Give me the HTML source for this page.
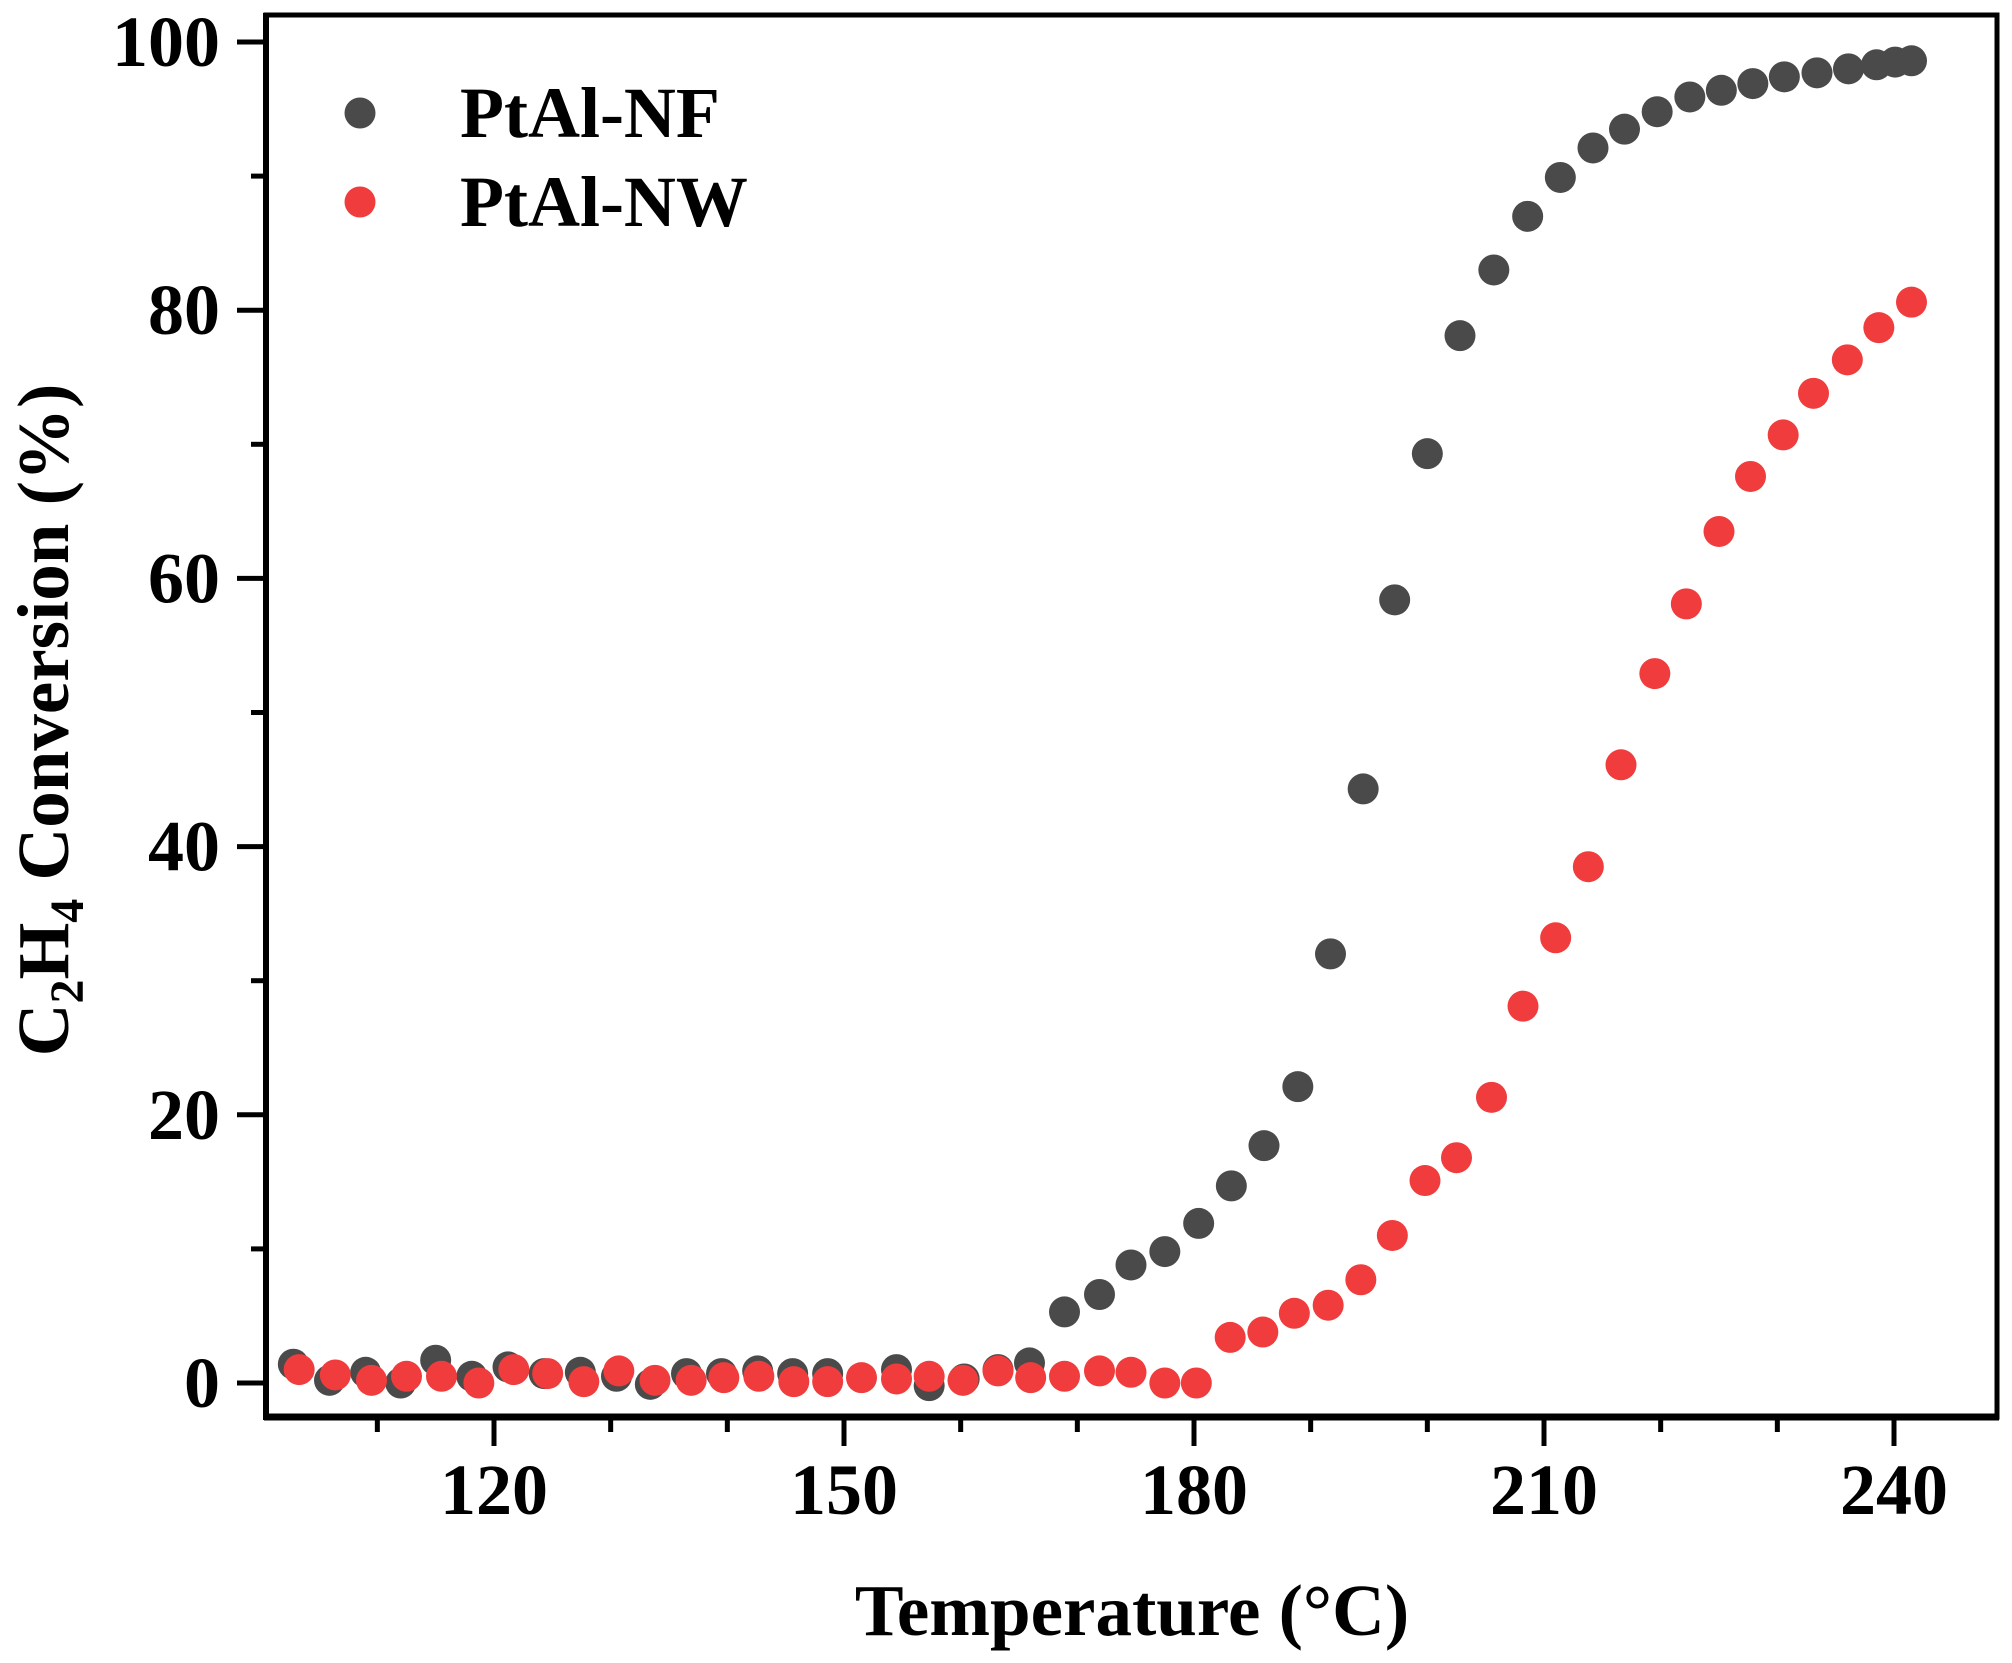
<!DOCTYPE html>
<html><head><meta charset="utf-8"><style>
html,body{margin:0;padding:0;background:#fff}
svg{display:block}
text{font-family:"Liberation Serif",serif;font-weight:bold;fill:#000}
</style></head><body>
<svg id="chart" width="2012" height="1663" viewBox="0 0 2012 1663" xmlns="http://www.w3.org/2000/svg">
<g id="grid"></g>
<g id="marks"></g>
<rect x="266" y="15" width="1731" height="1402" fill="none" stroke="#000" stroke-width="5"/>
<line x1="264" y1="1417" x2="1999" y2="1417" stroke="#000" stroke-width="7"/>
<line x1="266" y1="13" x2="266" y2="1420" stroke="#000" stroke-width="6"/>
<g id="axes"></g>
<g>
<circle cx="360" cy="113" r="15.5" fill="#4a4a4a"/>
<text x="460" y="137" font-size="72">PtAl-NF</text>
<circle cx="360" cy="202" r="15.5" fill="#f03c3c"/>
<text x="460" y="226" font-size="72">PtAl-NW</text>
</g>
<text x="1132" y="1635" font-size="73" text-anchor="middle">Temperature (°C)</text>
<text transform="translate(68,720) rotate(-90)" font-size="73" text-anchor="middle">C<tspan font-size="48" dy="15">2</tspan><tspan dy="-15">H</tspan><tspan font-size="48" dy="15">4</tspan><tspan dy="-15"> Conversion (%)</tspan></text>
</svg>
<script>
const nfTemp=[102.8,105.9,109.0,112.0,115.0,118.1,121.2,124.3,127.4,130.5,133.4,136.5,139.5,142.6,145.6,148.6,154.5,157.3,160.3,163.2,165.9,168.9,171.9,174.6,177.5,180.4,183.2,186.0,188.9,191.7,194.5,197.2,200.0,202.8,205.7,208.6,211.4,214.2,216.9,219.7,222.5,225.2,227.9,230.6,233.4,236.1,238.5,240.1,241.5];
const nfConv=[1.4,0.2,0.8,0,1.7,0.5,1.2,0.7,0.8,0.5,-0.1,0.7,0.7,0.9,0.7,0.7,1.0,-0.2,0.3,1.0,1.5,5.3,6.6,8.8,9.8,11.9,14.7,17.7,22.1,32.0,44.3,58.4,69.3,78.1,83.0,87.0,89.9,92.1,93.5,94.8,95.9,96.4,96.9,97.4,97.7,98.0,98.3,98.5,98.6];
const nwTemp=[103.3,106.4,109.5,112.5,115.5,118.7,121.7,124.6,127.7,130.7,133.8,136.9,139.7,142.7,145.7,148.6,151.5,154.5,157.3,160.2,163.2,166.0,168.9,171.9,174.6,177.5,180.2,183.1,185.9,188.6,191.5,194.3,197.0,199.8,202.5,205.5,208.2,211.0,213.8,216.6,219.5,222.2,225.0,227.7,230.5,233.1,236.0,238.7,241.5];
const nwConv=[1.0,0.6,0.2,0.5,0.5,0,1.0,0.7,0.1,0.9,0.2,0.2,0.4,0.5,0.1,0.1,0.4,0.3,0.5,0.2,0.9,0.4,0.5,0.9,0.8,0,0,3.4,3.8,5.2,5.8,7.7,11.0,15.1,16.8,21.3,28.1,33.2,38.5,46.1,52.9,58.1,63.5,67.6,70.7,73.8,76.3,78.7,80.6];
const xTicks=[120,150,180,210,240];
const xMinor=[100,110,130,140,160,170,190,200,220,230,250];
const yTicks=[0,20,40,60,80,100];
const yMinor=[10,30,50,70,90];

const NS="http://www.w3.org/2000/svg";
function X(t){return 494+(t-120)*(1400/120);}
function Y(v){return 1383-v*13.41;}
function mk(tag,attrs,parent){const e=document.createElementNS(NS,tag);for(const k in attrs)e.setAttribute(k,attrs[k]);parent.appendChild(e);return e;}
const marks=document.getElementById('marks'),axes=document.getElementById('axes');
function series(ts,vs,color,name){
  const g=mk('g',{},marks);
  
  
  for(let i=0;i<ts.length;i++){
    const c=mk('circle',{cx:X(ts[i]),cy:Y(vs[i]),r:15.5,fill:color},g);
    
    
  }
}
series(nfTemp,nfConv,'#4a4a4a','ptal-nf');
series(nwTemp,nwConv,'#f03c3c','ptal-nw');
xTicks.forEach(t=>{
  const l=mk('line',{x1:X(t),x2:X(t),y1:1417,y2:1446,stroke:'#000','stroke-width':5},axes);
  
  
  const tx=mk('text',{x:X(t),y:1514,'font-size':72,'text-anchor':'middle'},axes);
  tx.textContent=t;
  
  
});
xMinor.forEach(t=>{
  const x=X(t); if(x<265||x>1998)return;
  const l=mk('line',{x1:x,x2:x,y1:1417,y2:1432,stroke:'#000','stroke-width':5},axes);
  
  
});
yTicks.forEach(v=>{
  const l=mk('line',{x1:237,x2:266,y1:Y(v),y2:Y(v),stroke:'#000','stroke-width':5},axes);
  
  
  const tx=mk('text',{x:220,y:Y(v)+24,'font-size':72,'text-anchor':'end'},axes);
  tx.textContent=v;
  
  
});
yMinor.forEach(v=>{
  const l=mk('line',{x1:251,x2:266,y1:Y(v),y2:Y(v),stroke:'#000','stroke-width':5},axes);
  
  
});
</script>
</body></html>
